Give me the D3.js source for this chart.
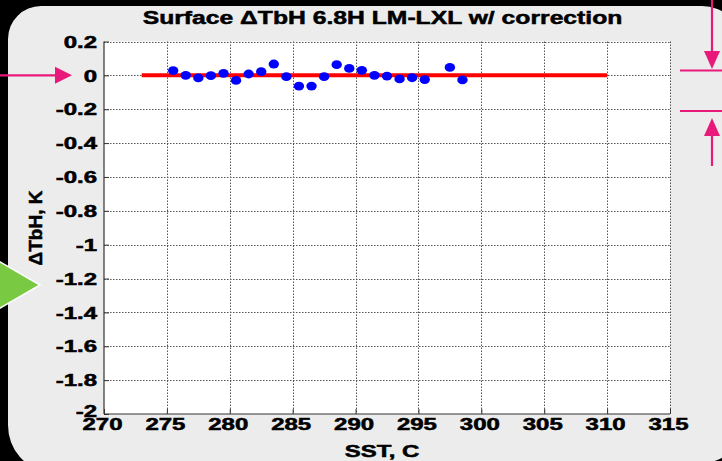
<!DOCTYPE html>
<html><head><meta charset="utf-8">
<script src="https://cdn.jsdelivr.net/npm/d3@7"></script>
<style>html,body{margin:0;padding:0;background:#000;}svg{display:block;}</style>
</head><body>
<svg id="chart" width="722" height="461"></svg>
<script>
const titleText = "Surface \u0394TbH 6.8H LM-LXL w/ correction";
const xLabelText = "SST, C";
const yLabelText = "\u0394TbH, K";
const xTicks = [270, 275, 280, 285, 290, 295, 300, 305, 310, 315];
const yTicks = [0.2, 0, -0.2, -0.4, -0.6, -0.8, -1, -1.2, -1.4, -1.6, -1.8, -2];
const sstValues = [275.5, 276.5, 277.5, 278.5, 279.5, 280.5, 281.5, 282.5, 283.5, 284.5, 285.5, 286.5, 287.5, 288.5, 289.5, 290.5, 291.5, 292.5, 293.5, 294.5, 295.5, 297.5, 298.5];
const dTbValues = [0.028, 0.0, -0.015, -0.002, 0.012, -0.03, 0.008, 0.022, 0.067, -0.008, -0.063, -0.063, -0.008, 0.063, 0.041, 0.03, 0.0, -0.004, -0.021, -0.014, -0.025, 0.047, -0.027];
const refLineX = [273, 310];
const refLineY = [0, 0];

const svg = d3.select("#chart");
const FONT = "'Liberation Sans', Arial, sans-serif";
const pink = "#e8197b";

svg.append("rect").attr("width", 722).attr("height", 461).attr("fill", "#000");
svg.append("path")
  .attr("d", "M41,6 L702,6 A40,40 0 0 1 742,46 L742,423 A40,40 0 0 1 702,463 L48,470 A40,45 0 0 1 8,425 L8,39 A33,33 0 0 1 41,6 Z")
  .attr("fill", "#ececec");

const x = d3.scaleLinear().domain([270, 315]).range([104, 670]);
const y = d3.scaleLinear().domain([-2, 0.2]).range([414, 41.5]);

svg.append("rect")
  .attr("x", x(270)).attr("y", y(0.2))
  .attr("width", x(315) - x(270)).attr("height", y(-2) - y(0.2))
  .attr("fill", "#fff");

const grid = svg.append("g").attr("stroke", "#555").attr("stroke-width", 1).attr("stroke-dasharray", "1.5,1.5");
grid.selectAll("line.v").data(xTicks.slice(1)).join("line")
  .attr("x1", d => Math.round(x(d)) + 0.5).attr("x2", d => Math.round(x(d)) + 0.5)
  .attr("y1", y(0.2)).attr("y2", y(-2));
grid.selectAll("line.h").data(yTicks.slice(0, -1)).join("line")
  .attr("x1", x(270)).attr("x2", x(315))
  .attr("y1", d => Math.round(y(d)) + 0.5).attr("y2", d => Math.round(y(d)) + 0.5);

const xAxis = svg.append("g").attr("transform", `translate(0,${y(-2)})`)
  .call(d3.axisBottom(x).tickValues(xTicks).tickSize(-5).tickFormat(d3.format("d")));
const yAxis = svg.append("g").attr("transform", `translate(${x(270)},0)`)
  .call(d3.axisLeft(y).tickValues(yTicks).tickSize(-5).tickFormat(d => d3.format("")(d).replace("\u2212", "-")));
[xAxis, yAxis].forEach(g => {
  g.select(".domain").attr("stroke", "#333").attr("stroke-width", 1.2);
  g.selectAll(".tick line").attr("stroke", "#333");
  g.selectAll(".tick text").attr("fill", "#000").attr("stroke", "#000").attr("stroke-width", 0.5)
    .attr("font-family", FONT)
    .attr("font-weight", "bold").attr("font-size", 16).attr("dy", null).attr("x", 0).attr("y", 0);
});
xAxis.selectAll(".tick text").attr("text-anchor", "middle").attr("transform", "translate(-2,15.5) scale(1.5,1)");
yAxis.selectAll(".tick text").attr("text-anchor", "end")
  .attr("transform", d => d === -2 ? "translate(-7,2.5) scale(1.5,1)" : "translate(-7,5.7) scale(1.5,1)");
xAxis.select(".domain").attr("d", `M${x(270)},0H${x(315)}`);
yAxis.select(".domain").attr("d", `M0,${y(-2)}V${y(0.2)}`);

svg.append("line")
  .attr("x1", x(refLineX[0])).attr("x2", x(refLineX[1]))
  .attr("y1", y(refLineY[0])).attr("y2", y(refLineY[1]))
  .attr("stroke", "#ff0000").attr("stroke-width", 4);

svg.append("g").selectAll("ellipse").data(sstValues).join("ellipse")
  .attr("cx", (d) => x(d)).attr("cy", (d, i) => y(dTbValues[i]))
  .attr("rx", 5.2).attr("ry", 4.4).attr("fill", "#0000ff");

const t = svg.append("text").text(titleText)
  .attr("font-family", FONT).attr("font-weight", "bold").attr("font-size", 18.5)
  .attr("text-anchor", "middle").attr("fill", "#000").attr("stroke", "#000").attr("stroke-width", 0.5);
const tw = t.node().getComputedTextLength();
t.attr("transform", `translate(382.5,24) scale(${480 / tw},1)`);

svg.append("text").text(xLabelText)
  .attr("font-family", FONT).attr("font-weight", "bold").attr("font-size", 16)
  .attr("text-anchor", "middle").attr("fill", "#000").attr("stroke", "#000").attr("stroke-width", 0.5)
  .attr("transform", "translate(382,456.5) scale(1.5,1)");

svg.append("text").text(yLabelText)
  .attr("font-family", FONT).attr("font-weight", "bold").attr("font-size", 19)
  .attr("text-anchor", "middle").attr("fill", "#000").attr("stroke", "#000").attr("stroke-width", 0.5)
  .attr("transform", "translate(41.5,228) rotate(-90)");

const ann = svg.append("g").attr("stroke", pink).attr("fill", pink).attr("stroke-width", 2.2);
ann.append("line").attr("x1", 0).attr("x2", 58).attr("y1", y(0)).attr("y2", y(0));
ann.append("polygon").attr("stroke", "none")
  .attr("points", `55,${y(0) - 8.5} 72,${y(0)} 55,${y(0) + 8.5}`);
ann.append("line").attr("x1", 712).attr("x2", 712).attr("y1", 0).attr("y2", 54);
ann.append("polygon").attr("stroke", "none").attr("points", "704,51 712,69 720,51");
ann.append("line").attr("x1", 680).attr("x2", 722).attr("y1", 70.5).attr("y2", 70.5);
ann.append("line").attr("x1", 680).attr("x2", 722).attr("y1", 111).attr("y2", 111);
ann.append("polygon").attr("stroke", "none").attr("points", "704,136 712,118 720,136");
ann.append("line").attr("x1", 712).attr("x2", 712).attr("y1", 132).attr("y2", 166);

svg.append("polygon").attr("points", "-12,255 40,285 -12,315")
  .attr("fill", "#7ac943").attr("stroke", "#fff").attr("stroke-width", 1.5);
</script>
</body></html>
